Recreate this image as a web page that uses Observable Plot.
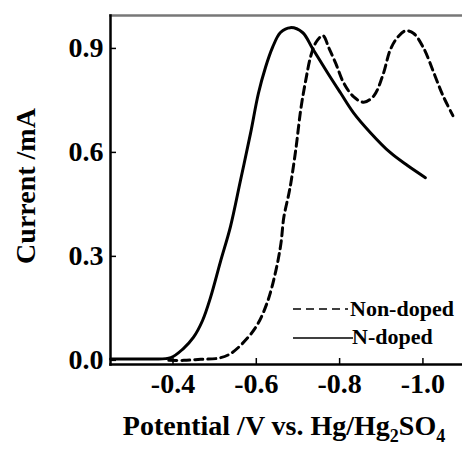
<!DOCTYPE html>
<html>
<head>
<meta charset="utf-8">
<script src="https://cdn.jsdelivr.net/npm/d3@7"></script>
<script src="https://cdn.jsdelivr.net/npm/@observablehq/plot@0.6"></script>
<style>
  html, body { margin: 0; padding: 0; background: #fff; }
  #chart svg { display: block; }
</style>
</head>
<body>
<div id="chart"></div>
<script>
// ---- Data ----
const seriesNames = ["Non-doped", "N-doped"];

const nDopedPotential = [-0.25, -0.30, -0.35, -0.395, -0.425, -0.449, -0.471, -0.490, -0.514, -0.538, -0.562, -0.586, -0.605, -0.622, -0.639, -0.658, -0.682, -0.711, -0.735, -0.771, -0.802, -0.833, -0.874, -0.922, -0.963, -1.006];
const nDopedCurrent   = [0.004, 0.004, 0.004, 0.008, 0.034, 0.066, 0.115, 0.181, 0.285, 0.386, 0.519, 0.654, 0.770, 0.845, 0.903, 0.946, 0.960, 0.946, 0.900, 0.830, 0.772, 0.715, 0.657, 0.599, 0.562, 0.527];

const nonDopedPotential = [-0.39, -0.426, -0.467, -0.508, -0.539, -0.58, -0.604, -0.628, -0.647, -0.659, -0.666, -0.678, -0.683, -0.695, -0.707, -0.719, -0.731, -0.743, -0.760, -0.774, -0.791, -0.810, -0.834, -0.858, -0.882, -0.903, -0.923, -0.942, -0.959, -0.978, -1.002, -1.026, -1.048, -1.072];
const nonDopedCurrent   = [0.0, 0.0, 0.003, 0.006, 0.02, 0.066, 0.106, 0.173, 0.259, 0.336, 0.412, 0.48, 0.512, 0.61, 0.726, 0.81, 0.879, 0.917, 0.937, 0.902, 0.856, 0.80, 0.76, 0.745, 0.763, 0.82, 0.90, 0.936, 0.951, 0.943, 0.90, 0.83, 0.764, 0.706];

const xTicks = [-0.4, -0.6, -0.8, -1.0];
const yTicks = [0.0, 0.3, 0.6, 0.9];
const xDomain = [-0.25, -1.095];
const yDomain = [-0.012, 0.995];
const yLabel = "Current /mA";

// ---- Build tables ----
const nDoped = nDopedPotential.map((v, i) => ({v, i: nDopedCurrent[i]}));
const nonDoped = nonDopedPotential.map((v, i) => ({v, i: nonDopedCurrent[i]}));

const W = 462, H = 450, mL = 110, mR = 0, mT = 15, mB = 86;
const FONT = "'Liberation Serif', 'Times New Roman', serif";

const chart = Plot.plot({
  width: W, height: H,
  marginLeft: mL, marginRight: mR, marginTop: mT, marginBottom: mB,
  style: {fontFamily: FONT, background: "white", color: "black", overflow: "visible"},
  x: {domain: xDomain},
  y: {domain: yDomain},
  marks: [
    Plot.frame({anchor: "top", stroke: "#777", strokeWidth: 2.5}),
    Plot.frame({anchor: "left", stroke: "black", strokeWidth: 2.5}),
    Plot.frame({anchor: "bottom", stroke: "black", strokeWidth: 2.5}),
    Plot.tickX(xTicks, {x: d => d, insetTop: H - mT - mB - 6, strokeWidth: 1.5}),
    Plot.tickY(yTicks, {y: d => d, insetRight: W - mL - mR - 6, strokeWidth: 1.5}),
    Plot.axisX(xTicks, {tickSize: 0, tickPadding: 9, fontSize: 28, fontWeight: "bold", tickFormat: d => d.toFixed(1), label: null}),
    Plot.axisY(yTicks, {tickSize: 0, tickPadding: 7, fontSize: 28, fontWeight: "bold", tickFormat: d => d.toFixed(1), label: null}),
    Plot.line(nonDoped, {x: "v", y: "i", stroke: "black", strokeWidth: 3, strokeDasharray: "8,5", curve: "catmull-rom"}),
    Plot.line(nDoped, {x: "v", y: "i", stroke: "black", strokeWidth: 3, curve: "catmull-rom"})
  ]
});

document.getElementById("chart").appendChild(chart);

// ---- Axis titles and legend (real SVG text) ----
const svg = d3.select(chart);

svg.append("text")
  .attr("transform", "translate(35,186) rotate(-90)")
  .attr("text-anchor", "middle")
  .attr("font-family", FONT)
  .attr("font-size", 28)
  .attr("font-weight", "bold")
  .attr("fill", "black")
  .text(yLabel);

const xl = svg.append("text")
  .attr("x", 284).attr("y", 435)
  .attr("text-anchor", "middle")
  .attr("font-family", FONT)
  .attr("font-size", 28)
  .attr("font-weight", "bold")
  .attr("fill", "black");
xl.append("tspan").text("Potential /V vs. Hg/Hg");
xl.append("tspan").attr("font-size", 18).attr("dy", 7).text("2");
xl.append("tspan").attr("dy", -7).text("SO");
xl.append("tspan").attr("font-size", 18).attr("dy", 7).text("4");

const legend = svg.append("g");
const legendItems = [
  {name: seriesNames[0], dash: "8,5", y: 316, lineY: 309, x2: 348, tx: 350},
  {name: seriesNames[1], dash: null, y: 344, lineY: 338, x2: 353, tx: 352}
];
legendItems.forEach(d => {
  legend.append("line")
    .attr("x1", 293).attr("x2", d.x2)
    .attr("y1", d.lineY).attr("y2", d.lineY)
    .attr("stroke", "black").attr("stroke-width", 1.6)
    .attr("stroke-dasharray", d.dash);
  legend.append("text")
    .attr("x", d.tx).attr("y", d.y)
    .attr("text-anchor", "start")
    .attr("font-family", FONT)
    .attr("font-size", 22)
    .attr("font-weight", "bold")
    .attr("fill", "black")
    .text(d.name);
});
</script>
</body>
</html>
